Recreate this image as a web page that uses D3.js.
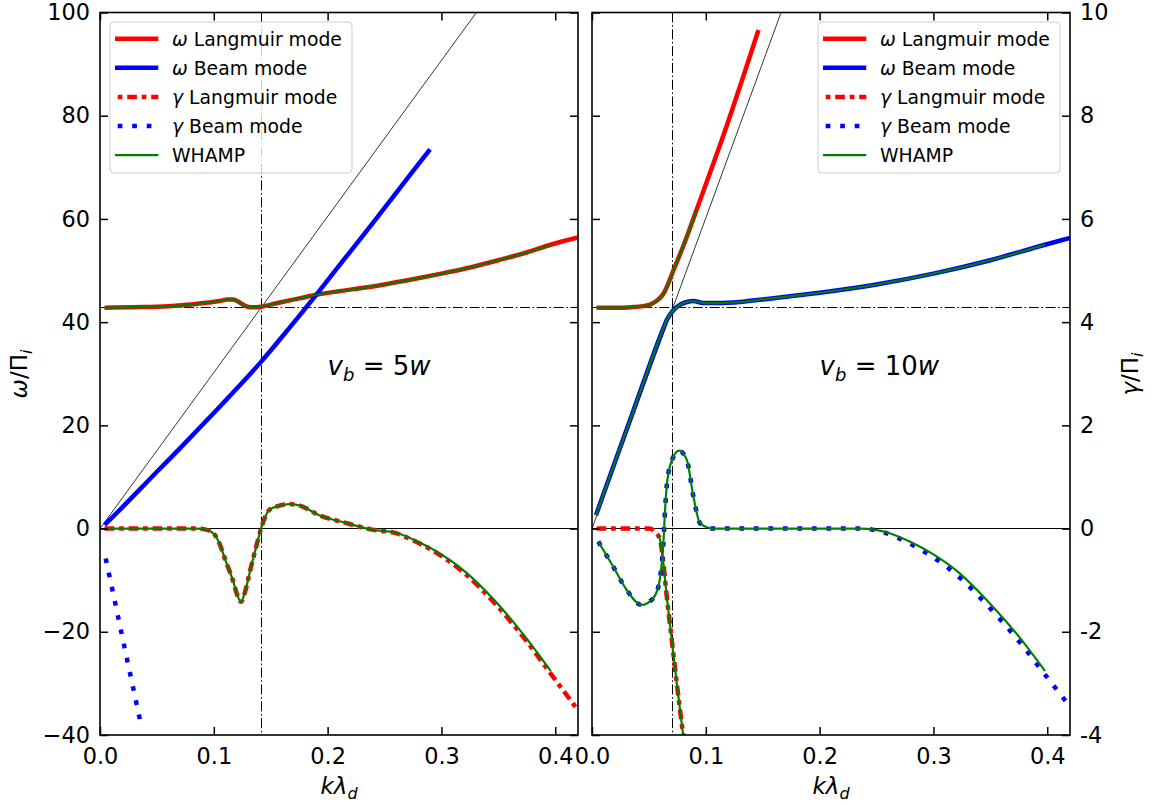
<!DOCTYPE html>
<html><head><meta charset="utf-8">
<script src="https://cdn.jsdelivr.net/npm/d3@7"></script>
<style>body{margin:0;background:#fff} svg{font-family:"DejaVu Sans",sans-serif}</style>
</head><body><svg id="c" width="1154" height="805"></svg>
<script>
// ---------------- data ----------------
const xTickValues = [0, 0.1, 0.2, 0.3, 0.4];
const yTickValues = [-40, -20, 0, 20, 40, 60, 80, 100];
const gammaTickValues = [-4, -2, 0, 2, 4, 6, 8, 10];
const gammaTickLabels = ["-4", "-2", "0", "2", "4", "6", "8", "10"];
const panelTitles = ["5", "10"];
const legendLabels = ["Langmuir mode", "Beam mode", "Langmuir mode", "Beam mode", "WHAMP"];
const legendSymbols = ["ω", "ω", "γ", "γ", ""];

// reference lines: plasma frequency, resonance k, beam line ω = v_b k
const omegaPe = 42.75;
const kResonance = [0.1415, 0.071];
const beamLineK = [[0, 0.42], [0, 0.21]];
const beamLineW = [[0, 127], [0, 126.4]];

// Panel A : v_b = 5w
const kA_wL = [0.004, 0.03, 0.06, 0.08, 0.095, 0.105, 0.112, 0.117, 0.122, 0.127, 0.132, 0.137, 0.142, 0.15, 0.16, 0.175, 0.19, 0.21, 0.23, 0.25, 0.275, 0.3, 0.325, 0.35, 0.375, 0.396, 0.42];
const omegaLangmuirA = [42.8, 42.9, 43.1, 43.4, 43.8, 44.1, 44.4, 44.4, 43.9, 43.2, 42.9, 42.9, 43.0, 43.4, 43.9, 44.6, 45.3, 46.0, 46.6, 47.3, 48.3, 49.4, 50.6, 52.0, 53.5, 55.0, 56.4];
const kA_wB = [0.004, 0.02, 0.035, 0.05, 0.07, 0.1, 0.12, 0.1415, 0.165, 0.19, 0.215, 0.24, 0.265, 0.29];
const omegaBeamA = [0.7, 4.2, 7.6, 11.0, 15.5, 22.4, 27.1, 32.3, 38.5, 45.3, 52.3, 59.3, 66.4, 73.5];
const kA_gL = [0.004, 0.03, 0.06, 0.085, 0.093, 0.1, 0.105, 0.11, 0.1167, 0.121, 0.1239, 0.127, 0.1327, 0.1375, 0.1415, 0.1487, 0.157, 0.1662, 0.175, 0.1925, 0.2158, 0.239, 0.26, 0.28, 0.3, 0.32, 0.347, 0.373, 0.396, 0.42];
const gammaLangmuirA = [0, 0, 0, 0, -0.2, -1.0, -2.9, -6.0, -10.0, -13.1, -14.2, -12.6, -7.4, -3.3, 0, 3.6, 4.4, 4.75, 4.5, 2.6, 1.1, -0.2, -0.9, -2.8, -5.3, -8.6, -14.5, -21.3, -28.1, -35.2];
const kA_gB = [0.005, 0.012, 0.018, 0.025, 0.031, 0.0365];
const gammaBeamA = [-5.8, -13.0, -19.3, -26.6, -32.8, -38.5];
const kA_whW = [0.004, 0.03, 0.06, 0.08, 0.095, 0.105, 0.112, 0.117, 0.122, 0.127, 0.132, 0.137, 0.142, 0.15, 0.16, 0.175, 0.19, 0.21, 0.23, 0.25, 0.275, 0.3, 0.325, 0.35, 0.375, 0.396];
const whampOmegaA = [42.8, 42.9, 43.1, 43.4, 43.8, 44.1, 44.4, 44.4, 43.9, 43.2, 42.9, 42.9, 43.0, 43.4, 43.9, 44.6, 45.3, 46.0, 46.6, 47.3, 48.3, 49.4, 50.6, 52.0, 53.5, 54.9];
const kA_whG = [0.004, 0.03, 0.06, 0.085, 0.093, 0.1, 0.105, 0.11, 0.1167, 0.121, 0.1239, 0.127, 0.1327, 0.1375, 0.1415, 0.1487, 0.157, 0.1662, 0.175, 0.1925, 0.2158, 0.239, 0.26, 0.28, 0.3, 0.32, 0.347, 0.373, 0.396];
const whampGammaA = [0, 0, 0, 0, -0.2, -1.0, -2.9, -6.0, -10.0, -13.1, -14.2, -12.6, -7.4, -3.3, 0, 3.6, 4.4, 4.75, 4.5, 2.6, 1.1, -0.2, -0.8, -2.6, -5.0, -8.2, -14.0, -20.8, -27.6];

// Panel B : v_b = 10w
const kB_wL = [0.004, 0.02, 0.035, 0.045, 0.051, 0.056, 0.0598, 0.063, 0.0657, 0.0685, 0.0715, 0.0803, 0.0921, 0.1155, 0.1463];
const omegaLangmuirB = [42.8, 42.8, 42.9, 43.1, 43.4, 44.0, 44.7, 45.6, 46.8, 48.3, 50.0, 54.8, 61.9, 76.2, 96.6];
const kB_wB = [0.0035, 0.02, 0.035, 0.05, 0.0554, 0.06, 0.0627, 0.0657, 0.0715, 0.0775, 0.0833, 0.0891, 0.0979, 0.11, 0.13, 0.15, 0.174, 0.2, 0.25, 0.3, 0.35, 0.398, 0.42];
const omegaBeamB = [2.6, 12.8, 22.0, 31.3, 34.6, 37.3, 38.8, 40.4, 42.3, 43.4, 43.9, 44.1, 43.7, 43.7, 43.9, 44.4, 45.0, 45.7, 47.3, 49.4, 52.0, 55.0, 56.3];
const kB_gL = [0.004, 0.03, 0.05, 0.0554, 0.0598, 0.0621, 0.0657, 0.0701, 0.0745, 0.0797, 0.0815];
const gammaLangmuirB = [0, 0, 0, -0.6, -2.2, -5.5, -13.2, -21.6, -30.0, -39.3, -42.5];
const kB_gB = [0.0055, 0.0187, 0.0305, 0.0437, 0.0525, 0.0583, 0.0613, 0.0627, 0.0642, 0.0662, 0.0715, 0.0765, 0.0833, 0.0891, 0.095, 0.1067, 0.15, 0.2, 0.236, 0.26, 0.28, 0.3, 0.32, 0.35, 0.375, 0.398, 0.42];
const gammaBeamB = [-2.5, -7.4, -11.9, -14.8, -13.8, -11.3, -6.7, -2.9, 3.6, 9.4, 13.9, 15.1, 13.3, 6.2, 1.0, 0, 0, 0, 0, -1.0, -3.0, -5.6, -8.9, -15.5, -21.8, -28.3, -34.5];
const kB_whWL = [0.004, 0.02, 0.035, 0.045, 0.051, 0.056, 0.0598, 0.063, 0.0657, 0.0685, 0.0715, 0.0803, 0.0921];
const whampOmegaLB = [42.8, 42.8, 42.9, 43.1, 43.4, 44.0, 44.7, 45.6, 46.8, 48.3, 50.0, 54.8, 61.9];
const kB_whWB = [0.0035, 0.02, 0.035, 0.05, 0.0554, 0.06, 0.0627, 0.0657, 0.0715, 0.0775, 0.0833, 0.0891, 0.0979, 0.11, 0.13, 0.15, 0.174, 0.2, 0.25, 0.3, 0.35, 0.398];
const whampOmegaBB = [2.6, 12.8, 22.0, 31.3, 34.6, 37.3, 38.8, 40.4, 42.3, 43.4, 43.9, 44.1, 43.7, 43.7, 43.9, 44.4, 45.0, 45.7, 47.3, 49.4, 52.0, 55.0];
const kB_whGB = [0.0055, 0.0187, 0.0305, 0.0437, 0.0525, 0.0583, 0.0613, 0.0627, 0.0642, 0.0662, 0.0715, 0.0765, 0.0833, 0.0891, 0.095, 0.1067, 0.15, 0.2, 0.236, 0.26, 0.28, 0.3, 0.32, 0.35, 0.375, 0.398];
const whampGammaBB = [-2.5, -7.4, -11.9, -14.8, -13.8, -11.3, -6.7, -2.9, 3.6, 9.4, 13.9, 15.1, 13.3, 6.2, 1.0, 0, 0, 0, 0, -0.8, -2.6, -5.0, -8.1, -14.6, -20.9, -27.6];
const kB_whGL = [0.058, 0.0598, 0.0621, 0.0657, 0.0701, 0.0745, 0.0797, 0.0815];
const whampGammaLB = [-1.2, -2.2, -5.5, -13.2, -21.6, -30.0, -39.3, -42.5];

// ---------------- drawing ----------------
const svg = d3.select("#c");
const FS = 22.4;
const plotTop = 12.5, plotBottom = 735;
const panelsX = [[100, 578], [592, 1070]];
const y = d3.scaleLinear().domain([-40, 100]).range([plotBottom, plotTop]);
const yG = d3.scaleLinear().domain([-4, 10]).range([plotBottom, plotTop]);
const crisp = v => Math.round(v - 0.5) + 0.5;

const RED = "#ff0000", BLUE = "#0000ff", GREEN = "#008000";
const DASHDOT = "9.7,4.8,4.7,4.8", DOTTED = "4.7,9.8", REFDASH = "10,2.6,1.6,2.6";

const panels = [
  {omegaL:[kA_wL, omegaLangmuirA], omegaB:[kA_wB, omegaBeamA], gammaL:[kA_gL, gammaLangmuirA], gammaB:[kA_gB, gammaBeamA],
   wham:[[kA_whW, whampOmegaA], [kA_whG, whampGammaA]]},
  {omegaL:[kB_wL, omegaLangmuirB], omegaB:[kB_wB, omegaBeamB], gammaL:[kB_gL, gammaLangmuirB], gammaB:[kB_gB, gammaBeamB],
   wham:[[kB_whWL, whampOmegaLB], [kB_whWB, whampOmegaBB], [kB_whGB, whampGammaBB], [kB_whGL, whampGammaLB]]}
];

const defs = svg.append("defs");

panels.forEach((p, i) => {
  const [x0, x1] = panelsX[i];
  const x = d3.scaleLinear().domain([0, 0.42]).range([x0, x1]);
  defs.append("clipPath").attr("id", "clip" + i).append("rect")
    .attr("x", x0).attr("y", plotTop).attr("width", x1 - x0).attr("height", plotBottom - plotTop);
  const g = svg.append("g").attr("clip-path", `url(#clip${i})`);
  const pts = (arr) => arr[0].map((k, j) => [k, arr[1][j]]);
  const lineLin = d3.line().x(d => x(d[0])).y(d => y(d[1]));
  const line = d3.line().x(d => x(d[0])).y(d => y(d[1])).curve(d3.curveMonotoneX);

  // reference lines
  g.append("line").attr("x1", x0).attr("x2", x1).attr("y1", crisp(y(0))).attr("y2", crisp(y(0)))
    .attr("stroke", "#000").attr("stroke-width", 1);
  g.append("line").attr("x1", x0).attr("x2", x1).attr("y1", crisp(y(omegaPe))).attr("y2", crisp(y(omegaPe)))
    .attr("stroke", "#000").attr("stroke-width", 1).attr("stroke-dasharray", REFDASH);
  g.append("line").attr("x1", crisp(x(kResonance[i]))).attr("x2", crisp(x(kResonance[i]))).attr("y1", plotTop).attr("y2", plotBottom)
    .attr("stroke", "#000").attr("stroke-width", 1).attr("stroke-dasharray", REFDASH);
  g.append("path").attr("d", lineLin(pts([beamLineK[i], beamLineW[i]])))
    .attr("fill", "none").attr("stroke", "#000").attr("stroke-width", 0.8);

  const draw = (arr, color, w, dash) => {
    const path = g.append("path").attr("d", line(pts(arr))).attr("fill", "none")
      .attr("stroke", color).attr("stroke-width", w);
    if (dash) path.attr("stroke-dasharray", dash);
  };
  draw(p.omegaL, RED, 4.5);
  draw(p.omegaB, BLUE, 4.5);
  draw(p.gammaL, RED, 4.5, DASHDOT);
  draw(p.gammaB, BLUE, 4.5, DOTTED);
  p.wham.forEach(a => draw(a, GREEN, 2.2));

  // axes
  const ax = svg.append("g");
  const bottomAxis = d3.axisBottom(x).tickValues(xTickValues).tickSize(-8).tickSizeOuter(0).tickPadding(13)
    .tickFormat(d3.format(".1f"));
  const topAxis = d3.axisTop(x).tickValues(xTickValues).tickSize(-8).tickSizeOuter(0).tickFormat("");
  const leftAxis = d3.axisLeft(y).tickValues(yTickValues).tickSize(-8).tickSizeOuter(0).tickPadding(10)
    .tickFormat(i === 0 ? d3.format("d") : "");
  const rightAxis = i === 0
    ? d3.axisRight(y).tickValues(yTickValues).tickSize(-8).tickSizeOuter(0).tickFormat("")
    : d3.axisRight(yG).tickValues(gammaTickValues).tickSize(-8).tickSizeOuter(0).tickPadding(10)
        .tickFormat((d, j) => gammaTickLabels[j]);
  ax.append("g").attr("transform", `translate(0,${plotBottom})`).call(bottomAxis);
  ax.append("g").attr("transform", `translate(0,${plotTop})`).call(topAxis);
  ax.append("g").attr("transform", `translate(${x0},0)`).call(leftAxis);
  ax.append("g").attr("transform", `translate(${x1},0)`).call(rightAxis);
  ax.selectAll(".domain").remove();
  ax.selectAll(".tick line").attr("stroke", "#000").attr("stroke-width", 1.5);
  ax.selectAll(".tick text").attr("font-size", FS).attr("font-family", "DejaVu Sans").attr("fill", "#000");
  svg.append("rect").attr("x", x0).attr("y", plotTop).attr("width", x1 - x0).attr("height", plotBottom - plotTop)
    .attr("fill", "none").attr("stroke", "#000").attr("stroke-width", 1.6);

  // x label
  const xl = svg.append("text").attr("x", (x0 + x1) / 2).attr("y", 794).attr("text-anchor", "middle")
    .attr("font-size", 23);
  xl.append("tspan").attr("font-style", "italic").text("kλ");
  xl.append("tspan").attr("font-style", "italic").attr("font-size", 16).attr("dy", 5).text("d");

  // annotation
  const an = svg.append("text").attr("x", x(0.2)).attr("y", 375).attr("font-size", 26);
  an.append("tspan").attr("font-style", "italic").text("v");
  an.append("tspan").attr("font-style", "italic").attr("font-size", 18).attr("dy", 6).text("b");
  an.append("tspan").attr("dy", -6).text(" = " + panelTitles[i]);
  an.append("tspan").attr("font-style", "italic").text("w");

  // legend
  const lx = i === 0 ? 110 : 818, ly = 22;
  const lg = svg.append("g");
  lg.append("rect").attr("x", lx).attr("y", ly).attr("width", 242).attr("height", 151).attr("rx", 4)
    .attr("fill", "#fff").attr("fill-opacity", 0.8).attr("stroke", "#cccccc").attr("stroke-width", 1);
  const styles = [[RED, 4.5, null], [BLUE, 4.5, null], [RED, 4.5, DASHDOT], [BLUE, 4.5, DOTTED], [GREEN, 2.2, null]];
  legendLabels.forEach((lab, j) => {
    const yy = 38.7 + j * 29.1;
    const sl = lg.append("line").attr("x1", lx + 5).attr("x2", lx + 48.3).attr("y1", yy).attr("y2", yy)
      .attr("stroke", styles[j][0]).attr("stroke-width", styles[j][1]);
    if (styles[j][2]) sl.attr("stroke-dasharray", styles[j][2]).attr("stroke-dashoffset", 11.8);
    const t = lg.append("text").attr("x", lx + 62).attr("y", yy + 7).attr("font-size", 18.8);
    if (legendSymbols[j]) {
      t.append("tspan").attr("font-style", "italic").text(legendSymbols[j]);
      t.append("tspan").text(" " + lab);
    } else t.text(lab);
  });
});

// y labels
const yl = svg.append("text").attr("transform", "translate(27,374) rotate(-90)").attr("text-anchor", "middle")
  .attr("font-size", 23);
yl.append("tspan").attr("font-style", "italic").text("ω");
yl.append("tspan").text("/Π");
yl.append("tspan").attr("font-style", "italic").attr("font-size", 16).attr("dy", 5).text("i");

const yr = svg.append("text").attr("transform", "translate(1138,374) rotate(-90)").attr("text-anchor", "middle")
  .attr("font-size", 23);
yr.append("tspan").attr("font-style", "italic").text("γ");
yr.append("tspan").text("/Π");
yr.append("tspan").attr("font-style", "italic").attr("font-size", 16).attr("dy", 5).text("i");
</script></body></html>
